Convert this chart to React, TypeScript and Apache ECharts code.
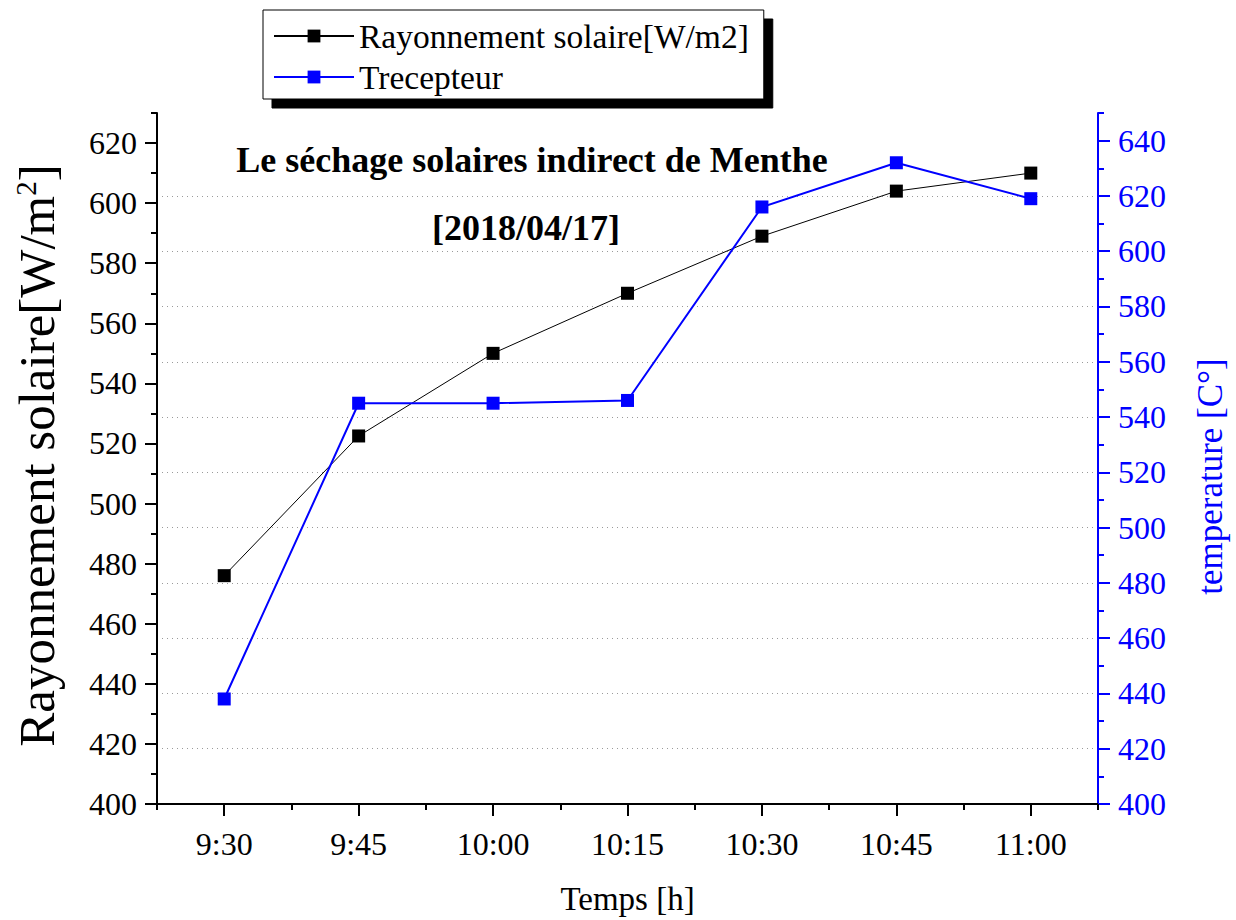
import React, { useEffect, useRef } from "react";
import * as echarts from "echarts";

// Measurement times (x axis)
const categories = ["9:30", "9:45", "10:00", "10:15", "10:30", "10:45", "11:00"];
// Solar irradiance [W/m2] (left axis)
const rayonnement = [476, 522.5, 550, 570, 589, 604, 610];
// Receiver temperature [°C] (right axis)
const trecepteur = [438, 545, 545, 546, 616, 632, 619];
// Major tick positions of both value axes
const leftMajorTicks = [400, 420, 440, 460, 480, 500, 520, 540, 560, 580, 600, 620];
const rightMajorTicks = [400, 420, 440, 460, 480, 500, 520, 540, 560, 580, 600, 620, 640];

const FONT = "Liberation Serif";
const BLUE = "#0000ff";

export default function App() {
  const ref = useRef<HTMLDivElement>(null);

  useEffect(() => {
    document.body.style.margin = "0";
    if (!ref.current) return;
    const chart = echarts.init(ref.current, null, { renderer: "svg" });

    // value labels only on every second (20-unit) tick
    const majorLabel = (v: number) => (v % 20 === 0 ? String(v) : "");

    chart.setOption({
      animation: false,
      backgroundColor: "#ffffff",
      textStyle: { fontFamily: FONT },
      grid: { left: 157, right: 136, top: 113, bottom: 114, containLabel: false },
      legend: {
        orient: "vertical",
        left: 263,
        top: 10,
        align: "left",
        padding: [8, 15, 4, 10],
        itemGap: 5,
        itemWidth: 80,
        itemHeight: 16,
        backgroundColor: "#ffffff",
        borderColor: "#000000",
        borderWidth: 1,
        shadowColor: "#000000",
        shadowBlur: 0,
        shadowOffsetX: 9,
        shadowOffsetY: 9,
        textStyle: { fontFamily: FONT, fontSize: 33.5, color: "#000", lineHeight: 36 },
        data: ["Rayonnement solaire[W/m2]", "Trecepteur"],
      },
      graphic: [
        {
          type: "text",
          x: 532,
          y: 160,
          style: {
            text: "Le séchage solaires indirect de Menthe",
            font: `bold 36px "${FONT}"`,
            fill: "#000",
            textAlign: "center",
            textVerticalAlign: "middle",
          },
        },
        {
          type: "text",
          x: 526,
          y: 228,
          style: {
            text: "[2018/04/17]",
            font: `bold 36px "${FONT}"`,
            fill: "#000",
            textAlign: "center",
            textVerticalAlign: "middle",
          },
        },
      ],
      xAxis: [
        {
          type: "category",
          position: "bottom",
          data: categories,
          boundaryGap: true,
          axisLine: { show: true, lineStyle: { color: "#000", width: 2 } },
          axisTick: {
            show: true,
            interval: 0,
            alignWithLabel: true,
            length: 12,
            lineStyle: { color: "#000", width: 2 },
          },
          axisLabel: { interval: 0, fontFamily: FONT, fontSize: 32, color: "#000", margin: 24 },
          splitLine: { show: false },
          name: "Temps [h]",
          nameLocation: "middle",
          nameGap: 78,
          nameTextStyle: { fontFamily: FONT, fontSize: 33, color: "#000" },
        },
        {
          // boundary (minor) ticks between categories
          type: "category",
          position: "bottom",
          data: categories,
          boundaryGap: true,
          axisLine: { show: false },
          axisTick: { show: true, interval: 0, length: 6, lineStyle: { color: "#000", width: 2 } },
          axisLabel: { show: false },
          splitLine: { show: false },
        },
      ],
      yAxis: [
        {
          type: "value",
          position: "left",
          min: 400,
          max: 630,
          interval: 10,
          axisLine: { show: true, lineStyle: { color: "#000", width: 2 } },
          axisTick: { show: true, length: 6, lineStyle: { color: "#000", width: 2 } },
          axisLabel: { formatter: majorLabel, fontFamily: FONT, fontSize: 32, color: "#000", margin: 20 },
          splitLine: { show: false },
          name: "{a|Rayonnement solaire[W/m}{s|2}{a|]}",
          nameLocation: "middle",
          nameGap: 95,
          nameTextStyle: {
            fontFamily: FONT,
            fontSize: 51,
            color: "#000",
            padding: [0, 0, 0, 6],
            rich: {
              a: { fontFamily: FONT, fontSize: 51, color: "#000" },
              s: { fontFamily: FONT, fontSize: 29, color: "#000", verticalAlign: "top" },
            },
          },
        },
        {
          type: "value",
          position: "left",
          min: 400,
          max: 630,
          interval: 20,
          axisLine: { show: false },
          axisTick: { show: true, length: 12, customValues: leftMajorTicks, lineStyle: { color: "#000", width: 2 } },
          axisLabel: { show: false },
          splitLine: { show: false },
        },
        {
          type: "value",
          position: "right",
          min: 400,
          max: 650,
          interval: 10,
          axisLine: { show: true, lineStyle: { color: BLUE, width: 2 } },
          axisTick: { show: true, length: 6, lineStyle: { color: BLUE, width: 2 } },
          axisLabel: { formatter: majorLabel, fontFamily: FONT, fontSize: 32, color: BLUE, margin: 20 },
          splitLine: { show: false },
          name: "temperature [C°]",
          nameLocation: "middle",
          nameGap: 95,
          nameTextStyle: { fontFamily: FONT, fontSize: 35, color: BLUE, padding: [0, 36, 0, 0] },
        },
        {
          type: "value",
          position: "right",
          min: 400,
          max: 650,
          interval: 20,
          axisLine: { show: false },
          axisTick: { show: true, length: 12, customValues: rightMajorTicks, lineStyle: { color: BLUE, width: 2 } },
          axisLabel: { show: false },
          splitLine: {
            show: true,
            showMinLine: false,
            showMaxLine: false,
            lineStyle: { color: "#9a9a9a", width: 1, type: [1, 4] },
          },
        },
      ],
      series: [
        {
          name: "Rayonnement solaire[W/m2]",
          type: "line",
          xAxisIndex: 0,
          yAxisIndex: 0,
          data: rayonnement,
          symbol: "rect",
          symbolSize: 13,
          itemStyle: { color: "#000" },
          lineStyle: { color: "#000", width: 1 },
        },
        {
          name: "Trecepteur",
          type: "line",
          xAxisIndex: 0,
          yAxisIndex: 2,
          data: trecepteur,
          symbol: "rect",
          symbolSize: 13,
          itemStyle: { color: BLUE },
          lineStyle: { color: BLUE, width: 2 },
        },
      ],
    });

    return () => chart.dispose();
  }, []);

  return <div ref={ref} style={{ width: 1236, height: 920 }} />;
}
